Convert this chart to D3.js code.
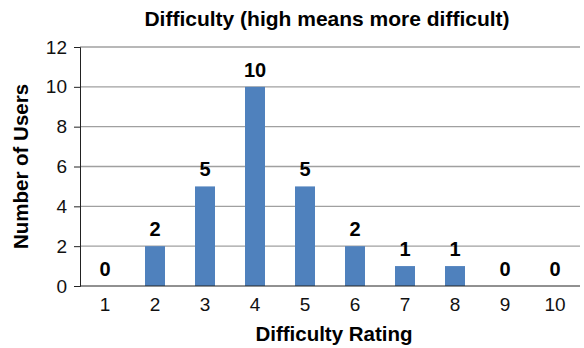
<!DOCTYPE html>
<html><head><meta charset="utf-8">
<script src="https://cdn.jsdelivr.net/npm/d3@7"></script>
<style>body{margin:0;background:#fff}svg{display:block}</style>
</head><body>
<script>
const categories = ["1","2","3","4","5","6","7","8","9","10"];
const values = [0,2,5,10,5,2,1,1,0,0];
const yTicks = [0,2,4,6,8,10,12];

const W = 584, H = 348;
const m = {left: 80, right: 4, top: 47, bottom: 62};
const FONT = "Liberation Sans, Arial, sans-serif";
const svg = d3.select("body").append("svg").attr("width", W).attr("height", H)
  .style("font-family", FONT);

const x = d3.scaleBand().domain(categories).range([m.left, W - m.right]).paddingInner(0.6).paddingOuter(0.3);
const y = d3.scaleLinear().domain([0, 12]).range([H - m.bottom, m.top]);

// gridlines
svg.append("g").selectAll("line").data(yTicks.filter(d => d > 0)).join("line")
  .attr("x1", m.left).attr("x2", W - m.right)
  .attr("y1", d => y(d)).attr("y2", d => y(d))
  .attr("stroke", "#a0a0a0").attr("stroke-width", 1.3);

// bars
svg.append("g").selectAll("rect").data(values).join("rect")
  .attr("x", (d, i) => x(categories[i]))
  .attr("width", x.bandwidth())
  .attr("y", d => y(d))
  .attr("height", d => y(0) - y(d))
  .attr("fill", "#4f81bd");

// y axis
const ya = svg.append("g").attr("transform", `translate(${m.left},0)`)
  .call(d3.axisLeft(y).tickValues(yTicks).tickSize(6).tickPadding(7));
ya.select(".domain").attr("stroke", "#222");
ya.selectAll(".tick line").attr("stroke", "#222");
ya.selectAll("text").attr("font-size", 19).attr("fill", "#111").style("font-family", FONT);

// x axis
const xa = svg.append("g").attr("transform", `translate(0,${y(0)})`)
  .call(d3.axisBottom(x).tickSize(0).tickPadding(12));
xa.select(".domain").attr("stroke", "#222").attr("d", `M${m.left},0H${W - m.right}`);
xa.selectAll("text").attr("font-size", 19).attr("fill", "#111").style("font-family", FONT);

// value labels
svg.append("g").selectAll("text").data(values).join("text")
  .attr("x", (d, i) => x(categories[i]) + x.bandwidth() / 2)
  .attr("y", d => y(d) - 10)
  .attr("text-anchor", "middle")
  .attr("font-size", 20).attr("font-weight", "bold").attr("fill", "#000")
  .text(d => d);

// title
svg.append("text").attr("x", 327).attr("y", 26)
  .attr("text-anchor", "middle").attr("font-size", 21).attr("font-weight", "bold")
  .text("Difficulty (high means more difficult)");

// axis titles
svg.append("text").attr("x", 334).attr("y", 341)
  .attr("text-anchor", "middle").attr("font-size", 20.5).attr("font-weight", "bold")
  .text("Difficulty Rating");
svg.append("text").attr("transform", `translate(28,${(y(0) + y(12)) / 2}) rotate(-90)`)
  .attr("text-anchor", "middle").attr("font-size", 20.5).attr("font-weight", "bold")
  .text("Number of Users");
</script>
</body></html>
